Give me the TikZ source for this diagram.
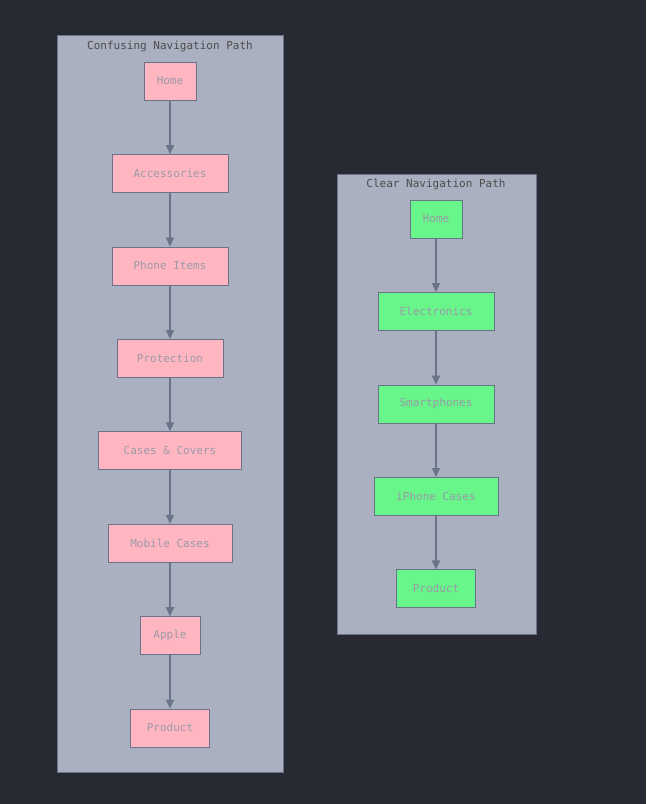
\documentclass[tikz,border=0pt]{standalone}
\usepackage{fontspec}
\setmonofont{DejaVu Sans Mono}
\usetikzlibrary{positioning,arrows.meta}
\definecolor{bgc}{HTML}{282A33}
\definecolor{clc}{HTML}{AAB0C0}
\definecolor{pinkc}{HTML}{FFB6C1}
\definecolor{greenc}{HTML}{68F58A}
\definecolor{edgec}{HTML}{697389}
\definecolor{txtc}{HTML}{9A9AA8}
\tikzset{
	navbox/.style={draw=edgec,minimum height=38pt,inner sep=0pt,font=\ttfamily\fontsize{11}{13}\selectfont,text=txtc},
	bad/.style={navbox,fill=pinkc},
	good/.style={navbox,fill=greenc},
	diredge/.style={->,>={Triangle[width=8pt,length=9pt]},color=edgec,line width=1.3pt},
	cluster/.style={draw=edgec,fill=clc},
	clabel/.style={font=\ttfamily\fontsize{11}{13}\selectfont,text=black!70}
}
\begin{document}
\begin{tikzpicture}[x=1pt,y=-1pt,node distance=54pt]
				\fill[bgc] (0,0) rectangle (646,804);
				%%%clusters
				\draw[cluster] (57,35) rectangle (283,772);
				\draw[cluster] (337,174) rectangle (536,634);
				\node[clabel] (c1) at (170,46) {Confusing Navigation Path};
				\node[clabel] (c2) at (436,184) {Clear Navigation Path};
				
				%%%confusing path
				\node[bad,minimum width=52pt] (h1) at (170,81) {Home};
				\node[bad,minimum width=116pt,below=of h1] (acc) {Accessories};
				\node[bad,minimum width=116pt,below=of acc] (pho) {Phone Items};
				\node[bad,minimum width=106pt,below=of pho] (pro) {Protection};
				\node[bad,minimum width=143pt,below=of pro] (cas) {Cases \& Covers};
				\node[bad,minimum width=124pt,below=of cas] (mob) {Mobile Cases};
				\node[bad,minimum width=60pt,below=of mob] (app) {Apple};
				\node[bad,minimum width=79pt,below=of app] (p1) {Product};
				\foreach \a/\b in {h1/acc,acc/pho,pho/pro,pro/cas,cas/mob,mob/app,app/p1}
					\draw[diredge] (\a) -- (\b);
				
				%%%clear path
				\node[good,minimum width=52pt] (h2) at (436,219) {Home};
				\node[good,minimum width=116pt,below=of h2] (ele) {Electronics};
				\node[good,minimum width=116pt,below=of ele] (sma) {Smartphones};
				\node[good,minimum width=124pt,below=of sma] (iph) {iPhone Cases};
				\node[good,minimum width=79pt,below=of iph] (p2) {Product};
				\foreach \a/\b in {h2/ele,ele/sma,sma/iph,iph/p2}
					\draw[diredge] (\a) -- (\b);
\end{tikzpicture}
\end{document}
